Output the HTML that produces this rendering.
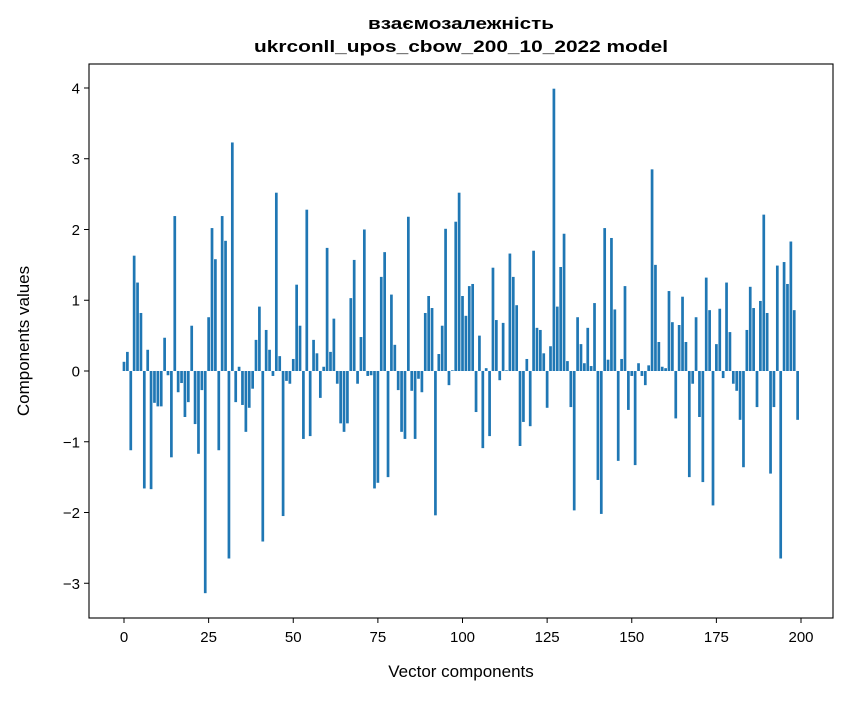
<!DOCTYPE html>
<html><head><meta charset="utf-8"><style>
body{margin:0;background:#fff;}
svg text{font-family:"Liberation Sans","DejaVu Sans",sans-serif;fill:#000;}
</style></head><body>
<svg id="chart" width="847" height="696" viewBox="0 0 847 696" xmlns="http://www.w3.org/2000/svg">
<rect width="847" height="696" fill="#fff"/>
<g id="bars"></g>
<g id="axes"></g>
<text x="461" y="29" text-anchor="middle" font-weight="bold" font-size="17" textLength="186" lengthAdjust="spacingAndGlyphs">взаємозалежність</text>
<text x="461" y="52" text-anchor="middle" font-weight="bold" font-size="17" textLength="414" lengthAdjust="spacingAndGlyphs">ukrconll_upos_cbow_200_10_2022 model</text>
<text x="461" y="677" text-anchor="middle" font-size="17">Vector components</text>
<text x="0" y="0" transform="translate(29,341) rotate(-90)" text-anchor="middle" font-size="17">Components values</text>
</svg>
<script>
const values = [0.13,0.27,-1.12,1.63,1.25,0.82,-1.66,0.30,-1.67,-0.45,-0.50,-0.50,0.47,-0.06,-1.22,2.19,-0.30,-0.17,-0.65,-0.44,0.64,-0.75,-1.17,-0.27,-3.14,
0.76,2.02,1.58,-1.12,2.19,1.84,-2.65,3.23,-0.44,0.06,-0.48,-0.86,-0.52,-0.25,0.44,0.91,-2.41,0.58,0.30,-0.07,2.52,0.21,-2.05,-0.14,-0.18,
0.17,1.22,0.64,-0.96,2.28,-0.92,0.44,0.25,-0.38,0.06,1.74,0.27,0.74,-0.18,-0.74,-0.86,-0.74,1.03,1.57,-0.18,0.48,2.00,-0.07,-0.06,-1.66,
-1.58,1.33,1.68,-1.50,1.08,0.37,-0.27,-0.86,-0.96,2.18,-0.28,-0.96,-0.11,-0.30,0.82,1.06,0.89,-2.04,0.24,0.64,2.01,-0.20,0.01,2.11,2.52,
1.06,0.78,1.20,1.23,-0.58,0.50,-1.09,0.04,-0.92,1.46,0.72,-0.13,0.68,0.01,1.66,1.33,0.93,-1.06,-0.72,0.17,-0.78,1.70,0.61,0.58,0.25,
-0.52,0.35,3.99,0.91,1.47,1.94,0.14,-0.51,-1.97,0.76,0.38,0.11,0.61,0.07,0.96,-1.54,-2.02,2.02,0.16,1.88,0.87,-1.27,0.17,1.20,-0.55,
-0.07,-1.33,0.11,-0.07,-0.20,0.08,2.85,1.50,0.41,0.06,0.04,1.13,0.69,-0.67,0.65,1.05,0.41,-1.50,-0.18,0.76,-0.65,-1.57,1.32,0.86,-1.90,
0.38,0.88,-0.10,1.25,0.55,-0.18,-0.28,-0.69,-1.36,0.58,1.19,0.89,-0.51,0.99,2.21,0.82,-1.45,-0.51,1.49,-2.65,1.54,1.23,1.83,0.86,-0.69];
const xTicks = [0,25,50,75,100,125,150,175,200];
const yTicks = [-3,-2,-1,0,1,2,3,4];
const yTickLabels = ["\u22123","\u22122","\u22121","0","1","2","3","4"];

const L=89,R=833,T=64,B=618;
const xMin=-10.34,xMax=209.45,yMin=-3.491,yMax=4.339;
const sx=v=>L+(v-xMin)/(xMax-xMin)*(R-L);
const sy=v=>T+(yMax-v)/(yMax-yMin)*(B-T);
const NS="http://www.w3.org/2000/svg";
const bars=document.getElementById('bars');
const bw=(sx(0.8)-sx(0));
values.forEach((v,i)=>{
  const r=document.createElementNS(NS,'rect');
  const y0=sy(0),y1=sy(v);
  r.setAttribute('x',sx(i)-bw/2);
  r.setAttribute('y',Math.min(y0,y1));
  r.setAttribute('width',bw);
  r.setAttribute('height',Math.abs(y1-y0));
  r.setAttribute('fill','#1f77b4');
  
  
  bars.appendChild(r);
});
const axes=document.getElementById('axes');
const frame=document.createElementNS(NS,'rect');
frame.setAttribute('x',L);frame.setAttribute('y',T);
frame.setAttribute('width',R-L);frame.setAttribute('height',B-T);
frame.setAttribute('fill','none');frame.setAttribute('stroke','#000');frame.setAttribute('stroke-width','1.1');


axes.appendChild(frame);
xTicks.forEach(t=>{
  const x=sx(t);
  const l=document.createElementNS(NS,'line');
  l.setAttribute('x1',x);l.setAttribute('x2',x);l.setAttribute('y1',B);l.setAttribute('y2',B+5);
  l.setAttribute('stroke','#000');
  
  
  axes.appendChild(l);
  const tx=document.createElementNS(NS,'text');
  tx.setAttribute('x',x);tx.setAttribute('y',B+24);tx.setAttribute('text-anchor','middle');tx.setAttribute('font-size','15');
  tx.textContent=t;
  
  
  axes.appendChild(tx);
});
yTicks.forEach((t,i)=>{
  const y=sy(t);
  const l=document.createElementNS(NS,'line');
  l.setAttribute('x1',L-5);l.setAttribute('x2',L);l.setAttribute('y1',y);l.setAttribute('y2',y);
  l.setAttribute('stroke','#000');
  
  
  axes.appendChild(l);
  const tx=document.createElementNS(NS,'text');
  tx.setAttribute('x',L-9);tx.setAttribute('y',y+5.5);tx.setAttribute('text-anchor','end');tx.setAttribute('font-size','15');
  tx.textContent=yTickLabels[i];
  
  
  axes.appendChild(tx);
});
</script>
</body></html>
